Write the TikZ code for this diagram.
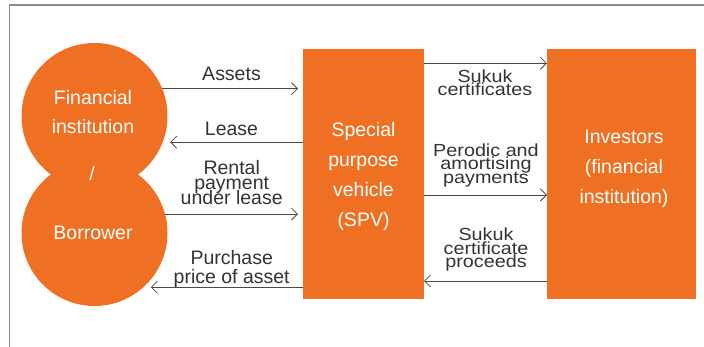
\documentclass[tikz,border=0pt]{standalone}
\usepackage{fontspec}
\setmainfont{Liberation Sans}
\newfontfamily\widesans[FakeStretch=1.13]{Liberation Sans}
\usetikzlibrary{arrows.meta}

\definecolor{sukukorange}{HTML}{F07023}
\definecolor{inkgray}{HTML}{333333}
\definecolor{linegray}{HTML}{4A4A4A}
\definecolor{framegray}{HTML}{8A8A8A}

% multi-line nodes are placed by the baseline of their last line
\tikzset{
  party/.style={fill=sukukorange, draw=none, inner sep=0pt, outer sep=0pt},
  circ/.style={party, circle, minimum size=146pt},
  box/.style={party, rectangle, minimum height=250pt},
  intext/.style={text=white, align=center, anchor=base, inner sep=0pt,
    font={\fontsize{19.5}{29.8}\selectfont}},
  lefttag/.style={text=inkgray, align=center, anchor=base, inner sep=0pt,
    font={\fontsize{19.5}{15}\selectfont\lineskiplimit=-100pt}},
  widetag/.style={text=inkgray, align=center, anchor=base, inner sep=0pt,
    font={\widesans\fontsize{17.5}{13.6}\selectfont\lineskiplimit=-100pt}},
  flow/.style={draw=linegray, line width=0.8pt,
    -{Straight Barb[length=6pt,width=12pt,line width=0.8pt]}},
}

\begin{document}
\begin{tikzpicture}[x=1pt, y=-1pt]
  \useasboundingbox (0,0) rectangle (704,347);

  % frame (top and left edges)
  \draw[framegray, line width=1.3pt] (9.5,347) -- (9.5,5) -- (704,5);

  % parties
  \node[circ] (fi) at (94.5,116) {};
  \node[circ] (bo) at (94.5,233) {};
  \node[box, minimum width=121pt] (spv) at (363.5,174) {};
  \node[box, minimum width=149pt] (inv) at (621.5,174) {};

  % texts inside the parties
  \node[intext] (fitext) at (93,134) {Financial\\institution};
  \node[intext] (slash) at (92,181) {/};
  \node[intext] (botext) at (93,239.3) {Borrower};
  \node[intext] (spvtext) at (363.5,226.4) {Special\\purpose\\vehicle\\(SPV)};
  \node[intext] (invtext) at (624,203.3) {Investors\\(financial\\institution)};

  % flows between the borrower side and the SPV
  \draw[flow, shorten >=5pt] (fi.22.3) -- (fi.22.3 -| spv.west);
  \draw[flow, shorten >=7.5pt] (fi.-21.3 -| spv.west) -- (fi.-21.3);
  \draw[flow, shorten >=5pt] (bo.15.5) -- (bo.15.5 -| spv.west);
  \draw[flow, shorten >=7.5pt] (bo.-48.9 -| spv.west) -- (bo.-48.9);

  \node[lefttag] (assets) at (231.5,80.7) {Assets};
  \node[lefttag] (lease) at (231.5,136) {Lease};
  \node[lefttag] (rental) at (231.7,205) {Rental\\payment\\under lease};
  \node[lefttag, font={\fontsize{19.5}{18.3}\selectfont}] (purchase) at (231.7,283.3) {Purchase\\price of asset};

  % flows between the SPV and the investors
  \coordinate (row1) at (0,63.3);
  \coordinate (row2) at (0,195);
  \coordinate (row3) at (0,281);
  \draw[flow] (spv.east |- row1) -- (inv.west |- row1);
  \draw[flow] (spv.east |- row2) -- (inv.west |- row2);
  \draw[flow] (inv.west |- row3) -- (spv.east |- row3);

  \node[widetag] (certs) at (485,95.7) {Sukuk\\certificates};
  \node[widetag] (payments) at (486,183.3) {Perodic and\\amortising\\payments};
  \node[widetag] (proceeds) at (486,267.7) {Sukuk\\certificate\\proceeds};
\end{tikzpicture}
\end{document}
